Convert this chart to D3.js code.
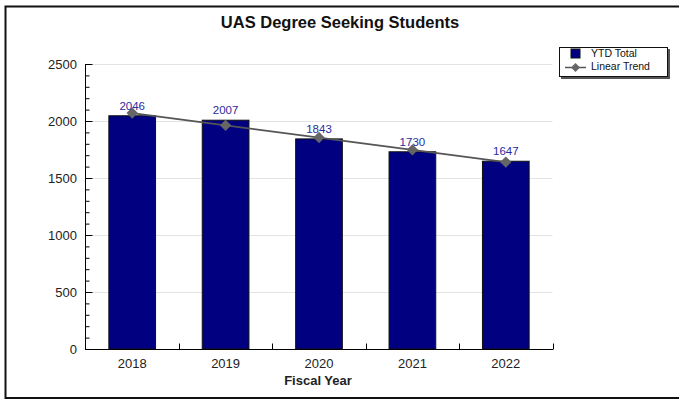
<!DOCTYPE html>
<html>
<head>
<meta charset="utf-8">
<script src="https://cdn.jsdelivr.net/npm/d3@7"></script>
<style>
  body { margin: 0; background: #fff; }
  svg { display: block; font-family: "Liberation Sans", Arial, sans-serif; }
</style>
</head>
<body>
<div id="chart"></div>
<script>
const years = ["2018", "2019", "2020", "2021", "2022"];
const ytdTotal = [2046, 2007, 1843, 1730, 1647];
const linearTrend = [2070, 1962, 1855, 1747, 1640];
const yTicks = [0, 500, 1000, 1500, 2000, 2500];

const width = 679, height = 400;
const svg = d3.select("#chart").append("svg").attr("width", width).attr("height", height);

// outer frame (right edge runs past the picture)
svg.append("rect")
  .attr("x", 5.5).attr("y", 6.5)
  .attr("width", 720).attr("height", 391.5)
  .attr("fill", "none").attr("stroke", "#111").attr("stroke-width", 2);

const x = d3.scaleBand().domain(years).range([85.5, 552.5]).paddingInner(0.5).paddingOuter(0.25);
const y = d3.scaleLinear().domain([0, 2500]).range([349, 64]);

// gridlines
svg.append("g").selectAll("line").data(yTicks.filter(d => d > 0)).join("line")
  .attr("x1", 86).attr("x2", 552.5)
  .attr("y1", d => Math.round(y(d)) + 0.5).attr("y2", d => Math.round(y(d)) + 0.5)
  .attr("stroke", "#e3e3e3");

// bars
svg.append("g").selectAll("rect").data(ytdTotal).join("rect")
  .attr("x", (d, i) => x(years[i]))
  .attr("y", d => y(d))
  .attr("width", x.bandwidth())
  .attr("height", d => y(0) - y(d))
  .attr("fill", "#000080")
  .attr("stroke", "#111")
  .attr("stroke-width", 1);

// y axis
const yAxis = svg.append("g").attr("transform", "translate(85.5,0)")
  .call(d3.axisRight(y).tickValues(d3.range(0, 2501, 100)).tickSize(4).tickFormat(""));
yAxis.selectAll(".tick line").filter(d => d % 500 === 0).attr("x2", 7);
yAxis.select(".domain").attr("d", `M0,${y(2500)}V${y(0)}`);

svg.append("g").selectAll("text").data(yTicks).join("text")
  .attr("x", 77).attr("y", d => y(d) + 4.5)
  .attr("text-anchor", "end").attr("font-size", 13).attr("fill", "#222")
  .text(d => d);

// x axis
const xAxis = svg.append("g").attr("transform", "translate(0,349.5)");
xAxis.append("line").attr("x1", 85).attr("x2", 553).attr("stroke", "#000");
const boundaries = years.map(d => x(d) - x.step() * 0.25).slice(1).concat([552.5]);
xAxis.selectAll(".btick").data(boundaries).join("line")
  .attr("class", "btick")
  .attr("x1", d => Math.round(d) + 0.5).attr("x2", d => Math.round(d) + 0.5)
  .attr("y1", 0).attr("y2", -6).attr("stroke", "#000");
xAxis.selectAll("text").data(years).join("text")
  .attr("x", d => x(d) + x.bandwidth() / 2).attr("y", 18)
  .attr("text-anchor", "middle").attr("font-size", 13).attr("fill", "#222")
  .text(d => d);

svg.append("text").attr("x", 318).attr("y", 385)
  .attr("text-anchor", "middle").attr("font-size", 13).attr("font-weight", "bold").attr("fill", "#222")
  .text("Fiscal Year");

// trend line
const cx = i => x(years[i]) + x.bandwidth() / 2;
svg.append("path")
  .datum(linearTrend)
  .attr("fill", "none").attr("stroke", "#555").attr("stroke-width", 1.8)
  .attr("d", d3.line().x((d, i) => cx(i)).y(d => y(d)));
svg.append("g").selectAll("path").data(linearTrend).join("path")
  .attr("transform", (d, i) => `translate(${cx(i)},${y(d)}) rotate(45)`)
  .attr("d", d3.symbol().type(d3.symbolSquare).size(64))
  .attr("fill", "#666");

// value labels
svg.append("g").selectAll("text").data(ytdTotal).join("text")
  .attr("x", (d, i) => cx(i)).attr("y", d => y(d) - 6)
  .attr("text-anchor", "middle").attr("font-size", 11.5).attr("fill", "#2b2b9e")
  .text(d => d);

// title
svg.append("text").attr("x", 340).attr("y", 28)
  .attr("text-anchor", "middle").attr("font-size", 16.5).attr("font-weight", "bold").attr("fill", "#111")
  .text("UAS Degree Seeking Students");

// legend
const lg = svg.append("g").attr("transform", "translate(559,47)");
lg.append("rect").attr("x", 2).attr("y", 2).attr("width", 109).attr("height", 30).attr("fill", "#555");
lg.append("rect").attr("x", 0.5).attr("y", 0.5).attr("width", 108).attr("height", 29)
  .attr("fill", "#fff").attr("stroke", "#111");
lg.append("rect").attr("x", 12).attr("y", 2).attr("width", 9).attr("height", 9)
  .attr("fill", "#000080").attr("stroke", "#111");
lg.append("line").attr("x1", 6).attr("x2", 27).attr("y1", 20.5).attr("y2", 20.5)
  .attr("stroke", "#555").attr("stroke-width", 1.5);
lg.append("path").attr("transform", "translate(16.5,20.5) rotate(45)")
  .attr("d", d3.symbol().type(d3.symbolSquare).size(40)).attr("fill", "#666");
lg.append("text").attr("x", 32).attr("y", 10).attr("font-size", 10.5).attr("fill", "#111").text("YTD Total");
lg.append("text").attr("x", 32).attr("y", 23).attr("font-size", 10.5).attr("fill", "#111").text("Linear Trend");
</script>
</body>
</html>
